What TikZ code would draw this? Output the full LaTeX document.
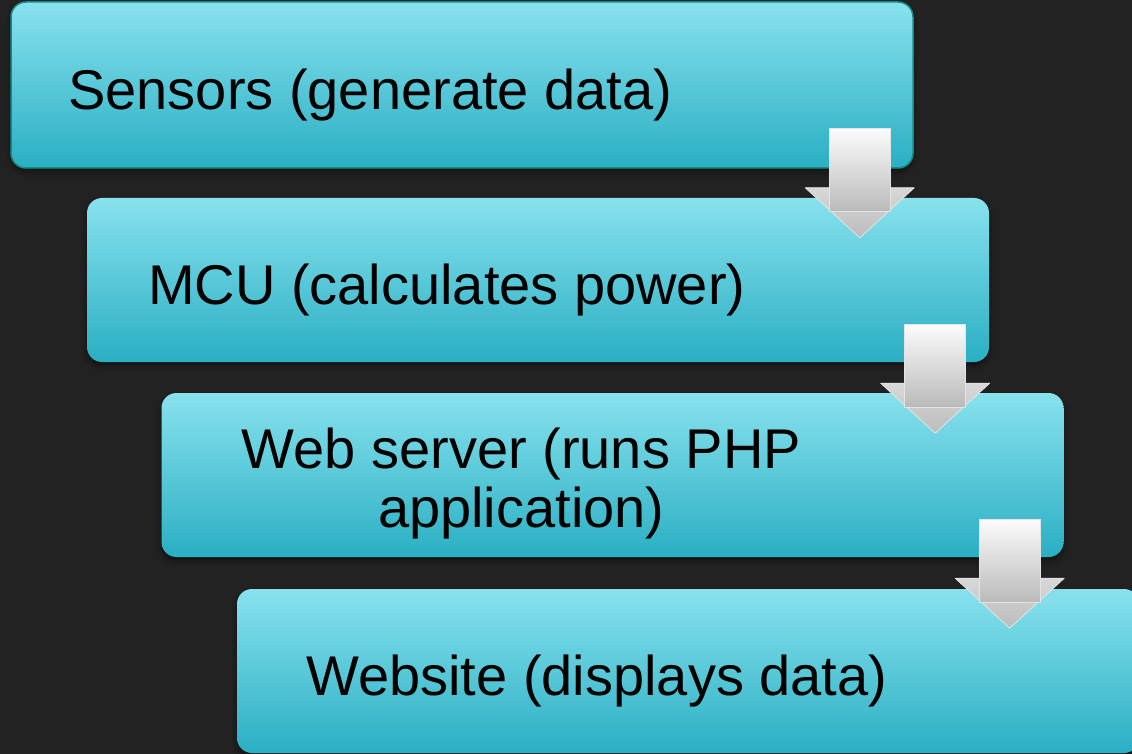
\documentclass[tikz,border=0pt]{standalone}
\usepackage{fontspec}
\setmainfont{Liberation Sans}
\usetikzlibrary{calc,shadows.blur}

\definecolor{bg}{HTML}{222222}
\definecolor{boxtop}{HTML}{88E2EE}
\definecolor{boxbot}{HTML}{2AAFC3}
\definecolor{boxedge}{HTML}{148C86}
\definecolor{shafttop}{HTML}{FCFCFC}
\definecolor{shaftbot}{HTML}{BABABA}
\definecolor{headtop}{HTML}{D8D8D8}
\definecolor{headbot}{HTML}{BCBCBC}
\definecolor{arrowedge}{HTML}{E4E4E4}

\tikzset{
  stepbox/.style={rectangle, rounded corners=15pt, minimum width=902pt,
    minimum height=164pt, inner sep=0pt, top color=boxtop, bottom color=boxbot,
    blur shadow={shadow xshift=0pt, shadow yshift=-4pt,
      shadow blur radius=6pt, shadow opacity=45}},
  steplabel/.style={font=\fontsize{56}{59}\selectfont, text=black,
    align=center, inner sep=0pt},
  pics/flowarrow/.style={code={
    % arrow head
    \shade[top color=headtop, bottom color=headbot, draw=arrowedge,
      line width=0.8pt, line join=round]
      (-54.5,59) -- (54.5,59) -- (0,109) -- cycle;
    % arrow shaft
    \shade[top color=shafttop, bottom color=shaftbot, draw=arrowedge,
      line width=0.6pt]
      (-30.5,0) rectangle (30.5,83);
  }}
}

\begin{document}
\begin{tikzpicture}[x=1pt,y=-1pt]
  \useasboundingbox (0,0) rectangle (1132,754);
  \fill[bg] (0,0) rectangle (1132,754);
  \clip (0,0) rectangle (1132,754);

  % the four stages, stepping down to the right
  \node[stepbox, draw=boxedge, line width=1.5pt, minimum height=166pt] (s1) at (462,85) {};
  \node[stepbox] (s2) at (538,280) {};
  \node[stepbox] (s3) at (612.5,475) {};
  \node[stepbox] (s4) at (688,671) {};

  % stage texts
  \node[steplabel, anchor=base] (t1) at ($(s1.west)+(360,25)$) {Sensors (generate data)};
  \node[steplabel, anchor=base] (t2) at ($(s2.west)+(360,24)$) {MCU (calculates power)};
  \node[steplabel] (t3) at ($(s3.west)+(360,9)$) {Web server (runs PHP\\application)};
  \node[steplabel, anchor=base] (t4) at ($(s4.west)+(360,24)$) {Website (displays data)};

  % arrows from each stage to the next
  \pic at ($(s1.south east)+(-54,-40)$) {flowarrow};
  \pic at ($(s2.south east)+(-54,-38)$) {flowarrow};
  \pic at ($(s3.south east)+(-54,-38)$) {flowarrow};
\end{tikzpicture}
\end{document}
